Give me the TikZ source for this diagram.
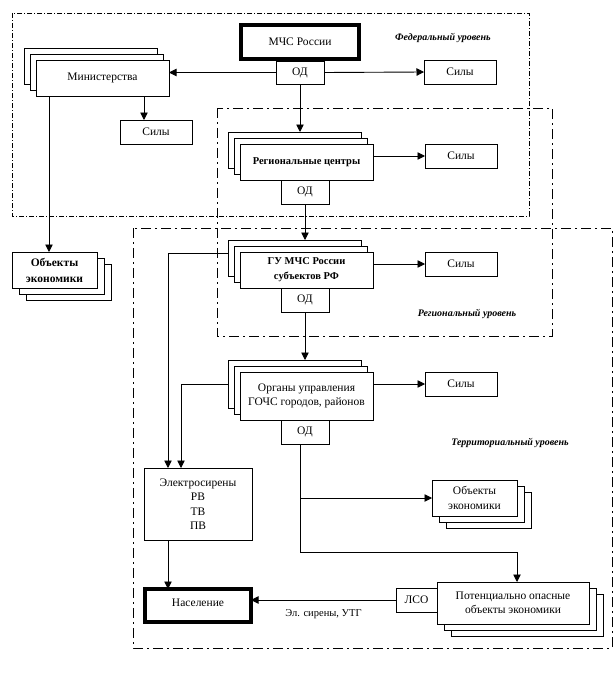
\documentclass[tikz,border=0pt]{standalone}
\usepackage{fontspec}
\setmainfont{Liberation Serif}
\usetikzlibrary{arrows.meta,calc}
\begin{document}
\begin{tikzpicture}[x=1pt,y=-1pt,
  box/.style={draw, line width=0.9pt, fill=white, inner sep=1pt, outer sep=0pt, align=center, font=\fontsize{11.5}{14.5}\selectfont},
  thickbox/.style={box, line width=3.6pt},
  boldtxt/.style={font=\bfseries\fontsize{10.5}{15}\selectfont},
  arr/.style={line width=0.9pt, -{Triangle[length=7.5pt,width=7.5pt]}},
  ln/.style={line width=0.9pt},
  lvl/.style={font=\bfseries\itshape\fontsize{10}{12}\selectfont, inner sep=0pt},
  fedframe/.style={line width=0.8pt, dash pattern=on 5pt off 2pt on 1pt off 2pt},
  regframe/.style={line width=0.8pt, dash pattern=on 10pt off 4pt on 2pt off 4pt},
  sily/.style={box, minimum width=72pt, minimum height=24pt},
  od/.style={box, minimum width=48pt, minimum height=24pt},
  wide/.style={box, minimum width=133pt, minimum height=36pt},
  obj/.style={box, minimum width=85pt, minimum height=36pt},
  pobj/.style={box, minimum width=152pt, minimum height=42pt},
]
\useasboundingbox (0,0) rectangle (614,685);

% frames
\draw[fedframe] (12,13) rectangle (529,216);
\draw[regframe] (217,108) rectangle (552,336);
\draw[regframe] (133,228) rectangle (612,648);

% level labels
\node[lvl] (lfed) at (443,38) {Федеральный уровень};
\node[lvl] (lreg) at (467,314) {Региональный уровень};
\node[lvl] (lter) at (510,443) {Территориальный уровень};

% federal
\node[thickbox, minimum width=118pt, minimum height=34pt] (mchs) at (300,42) {МЧС России};
\node[od, minimum height=23pt] (od1) at (300,72.5) {ОД};
\node[wide] (minb) at (90.5,66) {};
\node[wide] (minm) at (96.5,72) {};
\node[wide] (min) at (102.5,78) {Министерства};
\node[sily] (sily1) at (460,72) {Силы};
\node[sily] (sily2) at (156,132) {Силы};

% left objects
\node[obj] (obj1b) at (68.5,282) {};
\node[obj] (obj1m) at (61.5,276) {};
\node[obj, font=\bfseries\fontsize{11.5}{16}\selectfont] (obj1) at (54.5,270) {Объекты\\экономики};

% regional centres
\node[wide] (regb) at (294.5,150) {};
\node[wide] (regm) at (300.5,156) {};
\node[wide, boldtxt] (reg) at (306.5,162) {Региональные центры};
\node[od] (od2) at (305,192) {ОД};
\node[sily] (sily3) at (461,156) {Силы};

% GU
\node[wide] (gub) at (294.5,258) {};
\node[wide] (gum) at (300.5,264) {};
\node[wide, boldtxt] (gu) at (306.5,270) {ГУ МЧС России\\субъектов РФ};
\node[od] (od3) at (305,300) {ОД};
\node[sily] (sily4) at (461,264) {Силы};

% organs
\node[wide, minimum height=48pt] (orgb) at (294.5,384) {};
\node[wide, minimum height=48pt] (orgm) at (300.5,390) {};
\node[wide, minimum height=48pt] (org) at (306.5,396) {Органы управления\\ГОЧС городов, районов};
\node[od] (od4) at (305,432) {ОД};
\node[sily] (sily5) at (461,384) {Силы};

% sirens, population
\node[box, minimum width=108pt, minimum height=72pt] (siren) at (198,504) {Электросирены\\РВ\\ТВ\\ПВ};
\node[thickbox, minimum width=106pt, minimum height=33pt, text depth=6pt] (nas) at (198,605.5) {Население};

% territorial objects
\node[obj] (obj2b) at (488.5,510) {};
\node[obj] (obj2m) at (481.5,504) {};
\node[obj] (obj2) at (474.5,498) {Объекты\\экономики};

\node[pobj] (potb) at (527,615) {};
\node[pobj] (potm) at (520,609) {};
\node[pobj] (pot) at (513,603) {Потенциально опасные\\объекты экономики};
\node[box, minimum width=41pt, minimum height=24pt] (lso) at (416.5,600) {ЛСО};

% helper coordinates
\coordinate (m1) at ([xshift=13pt]min.south west);
\coordinate (m2) at ([xshift=108pt]min.south west);
\coordinate (c1) at ([xshift=24pt]siren.north west);
\coordinate (c2) at ([xshift=37pt]siren.north west);
\coordinate (c3) at ([xshift=24pt]siren.south west);
\coordinate (c4) at ([xshift=-5pt]od4.south);
\coordinate (c5) at ([xshift=4pt]pot.north);
\coordinate (c6) at ([yshift=30pt]c5);

% connectors
\draw[arr] (od1.west) -- (od1.west -| min.east);
\draw[arr] (od1.east) -- (sily1.west);
\draw[arr] (m2) -- (m2 |- sily2.north);
\draw[arr] (m1) -- (m1 |- obj1.north);
\draw[arr] (od1.south) -- (od1.south |- regb.north);
\draw[arr] (sily3.west -| reg.east) -- (sily3.west);
\draw[arr] (od2.south) -- (od2.south |- gub.north);
\draw[arr] (sily4.west -| gu.east) -- (sily4.west);
\draw[arr] (od3.south) -- (od3.south |- orgb.north);
\draw[arr] (sily5.west -| org.east) -- (sily5.west);
\draw[arr] ([yshift=5pt]gub.west) -| (c1);
\draw[arr] (orgb.west) -| (c2);
\draw[arr] (c3) -- (c3 |- nas.north);
\draw[arr] (c4) |- (obj2.west);
\draw[arr] (c4) |- (c6) -- (c5);
\draw[arr] (lso.west) -- (lso.west -| nas.east)
  node[midway, below=9pt, inner sep=0pt, font=\fontsize{10.5}{12}\selectfont] (lbl) {Эл. сирены, УТГ};
\end{tikzpicture}
\end{document}
